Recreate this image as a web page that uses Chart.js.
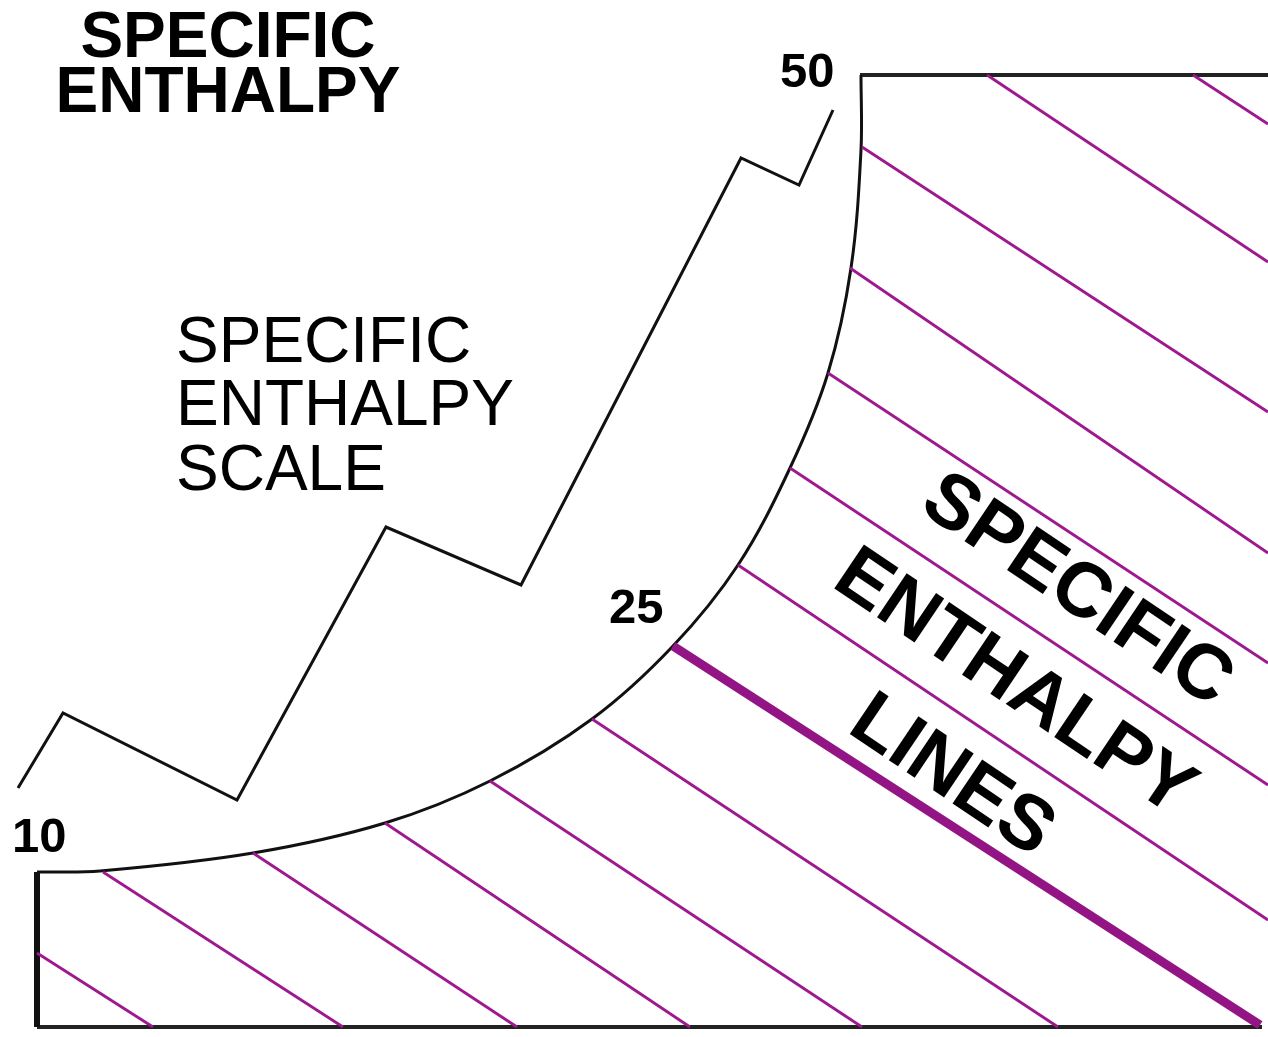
<!DOCTYPE html>
<html>
<head>
<meta charset="utf-8">
<script src="https://cdn.jsdelivr.net/npm/chart.js@4/dist/chart.umd.min.js"></script>
<style>
  body { margin: 0; background: #fff; }
  #wrap { width: 1268px; height: 1037px; }
</style>
</head>
<body>
<div id="wrap"><canvas id="myChart"></canvas></div>
<script>

// diagram units: x 0..1268 to the right, y 0..1037 downwards

// saturation curve (black)
var curveX = [37, 100, 253, 385, 490, 592, 673, 738, 790, 828, 851, 861, 861];
var curveY = [872, 871, 853, 823, 781, 719, 646, 565, 468, 373, 268, 150, 75];

// zigzag enthalpy scale line
var scaleX = [18, 63, 237, 386, 521, 741, 799, 833];
var scaleY = [788, 713, 800, 527, 585, 158, 185, 110];

// frame
var frameLeftX = [37, 37];
var frameLeftY = [872, 1027];
var frameBottomX = [37, 1262];
var frameBottomY = [1027, 1027];
var frameTopX = [860, 1268];
var frameTopY = [75, 75];

// thin enthalpy lines: start and end
var hStartX = [37, 103, 253, 385, 490, 592, 738, 790, 828, 850, 862, 987, 1193];
var hStartY = [953, 872, 853, 823, 781, 719, 565, 468, 373, 268, 147, 75, 75];
var hEndX = [153, 343, 517, 690, 862, 1058, 1268, 1268, 1268, 1268, 1268, 1268, 1268];
var hEndY = [1027, 1027, 1027, 1027, 1027, 1027, 920, 785, 663, 553, 412, 262, 124];

// the 25 line, drawn heavy
var thickX = [673, 1260];
var thickY = [646, 1025];

// texts
var titleLines = ["SPECIFIC", "ENTHALPY"];
var scaleLines = ["SPECIFIC", "ENTHALPY", "SCALE"];
var linesLines = ["SPECIFIC", "ENTHALPY", "LINES"];
var tickLabels = ["10", "25", "50"];
var tickLabelX = [12, 609, 780];
var tickLabelY = [852, 623, 87];

var PINK = "#9e1890";

function toPoints(xs, ys) {

  var pts = [];

  for (var i = 0; i < xs.length; i++) {

    pts.push({ x: xs[i], y: ys[i] });
  }

  return pts;
}

function lineSet(xs, ys, color, width, tension) {

  return {
    data: toPoints(xs, ys),
    showLine: true,
    borderColor: color,
    borderWidth: width,
    pointRadius: 0,
    tension: tension || 0,
    borderCapStyle: "butt",
    borderJoinStyle: "miter",
    fill: false
  };
}

function buildDatasets() {

  var sets = [];

  for (var i = 0; i < hStartX.length; i++) {

    sets.push(lineSet([hStartX[i], hEndX[i]], [hStartY[i], hEndY[i]], PINK, 2.8));
  }

  sets.push(lineSet(thickX, thickY, "#931585", 9));
  sets.push(lineSet(curveX, curveY, "#111", 3, 0.35));
  sets.push(lineSet(scaleX, scaleY, "#111", 3));
  sets.push(lineSet(frameLeftX, frameLeftY, "#111", 6));
  sets.push(lineSet(frameBottomX, frameBottomY, "#222", 4));
  sets.push(lineSet(frameTopX, frameTopY, "#222", 4));

  return sets;
}

var textPlugin = {
  id: "texts",
  afterDatasetsDraw: function(chart) {

    var ctx = chart.ctx;
    var sx = chart.scales.x;
    var sy = chart.scales.y;

    ctx.save();
    ctx.fillStyle = "#000";
    ctx.textBaseline = "alphabetic";

    // title
    ctx.font = "bold 64px 'Liberation Sans', Arial, sans-serif";
    ctx.textAlign = "center";
    var titleBase = [57, 112];
    for (var i = 0; i < titleLines.length; i++) {
      ctx.fillText(titleLines[i], sx.getPixelForValue(228), sy.getPixelForValue(titleBase[i]));
    }

    // scale label
    ctx.font = "64px 'Liberation Sans', Arial, sans-serif";
    ctx.textAlign = "left";
    var scaleBase = [362, 425, 490];
    for (var i = 0; i < scaleLines.length; i++) {
      ctx.fillText(scaleLines[i], sx.getPixelForValue(176), sy.getPixelForValue(scaleBase[i]));
    }

    // tick numbers
    ctx.font = "bold 49px 'Liberation Sans', Arial, sans-serif";
    for (var i = 0; i < tickLabels.length; i++) {
      ctx.fillText(tickLabels[i], sx.getPixelForValue(tickLabelX[i]), sy.getPixelForValue(tickLabelY[i]));
    }

    // rotated label along the lines
    var cx = sx.getPixelForValue(1014);
    var cy = sy.getPixelForValue(684);
    ctx.translate(cx, cy);
    ctx.rotate(34 * Math.PI / 180);
    ctx.font = "bold 77px 'Liberation Sans', Arial, sans-serif";
    ctx.textAlign = "center";
    ctx.textBaseline = "middle";
    ctx.lineJoin = "round";
    var gap = 112;
    for (var i = 0; i < linesLines.length; i++) {
      var yy = (i - 1) * gap;
      ctx.strokeStyle = "#fff";
      ctx.lineWidth = 8;
      ctx.strokeText(linesLines[i], 0, yy);
      ctx.fillText(linesLines[i], 0, yy);
    }

    ctx.restore();
  }
};

function init() {

  var ctx = document.getElementById("myChart");

  var myChart = new Chart(ctx, {
    type: "scatter",
    data: {
      datasets: buildDatasets()
    },
    options: {
      responsive: true,
      maintainAspectRatio: false,
      animation: false,
      layout: { padding: 0 },
      plugins: {
        legend: { display: false },
        tooltip: { enabled: false }
      },
      scales: {
        x: { type: "linear", min: 0, max: 1268, display: false },
        y: { type: "linear", min: 0, max: 1037, reverse: true, display: false }
      }
    },
    plugins: [textPlugin]
  });
}

init();
</script>
</body>
</html>
